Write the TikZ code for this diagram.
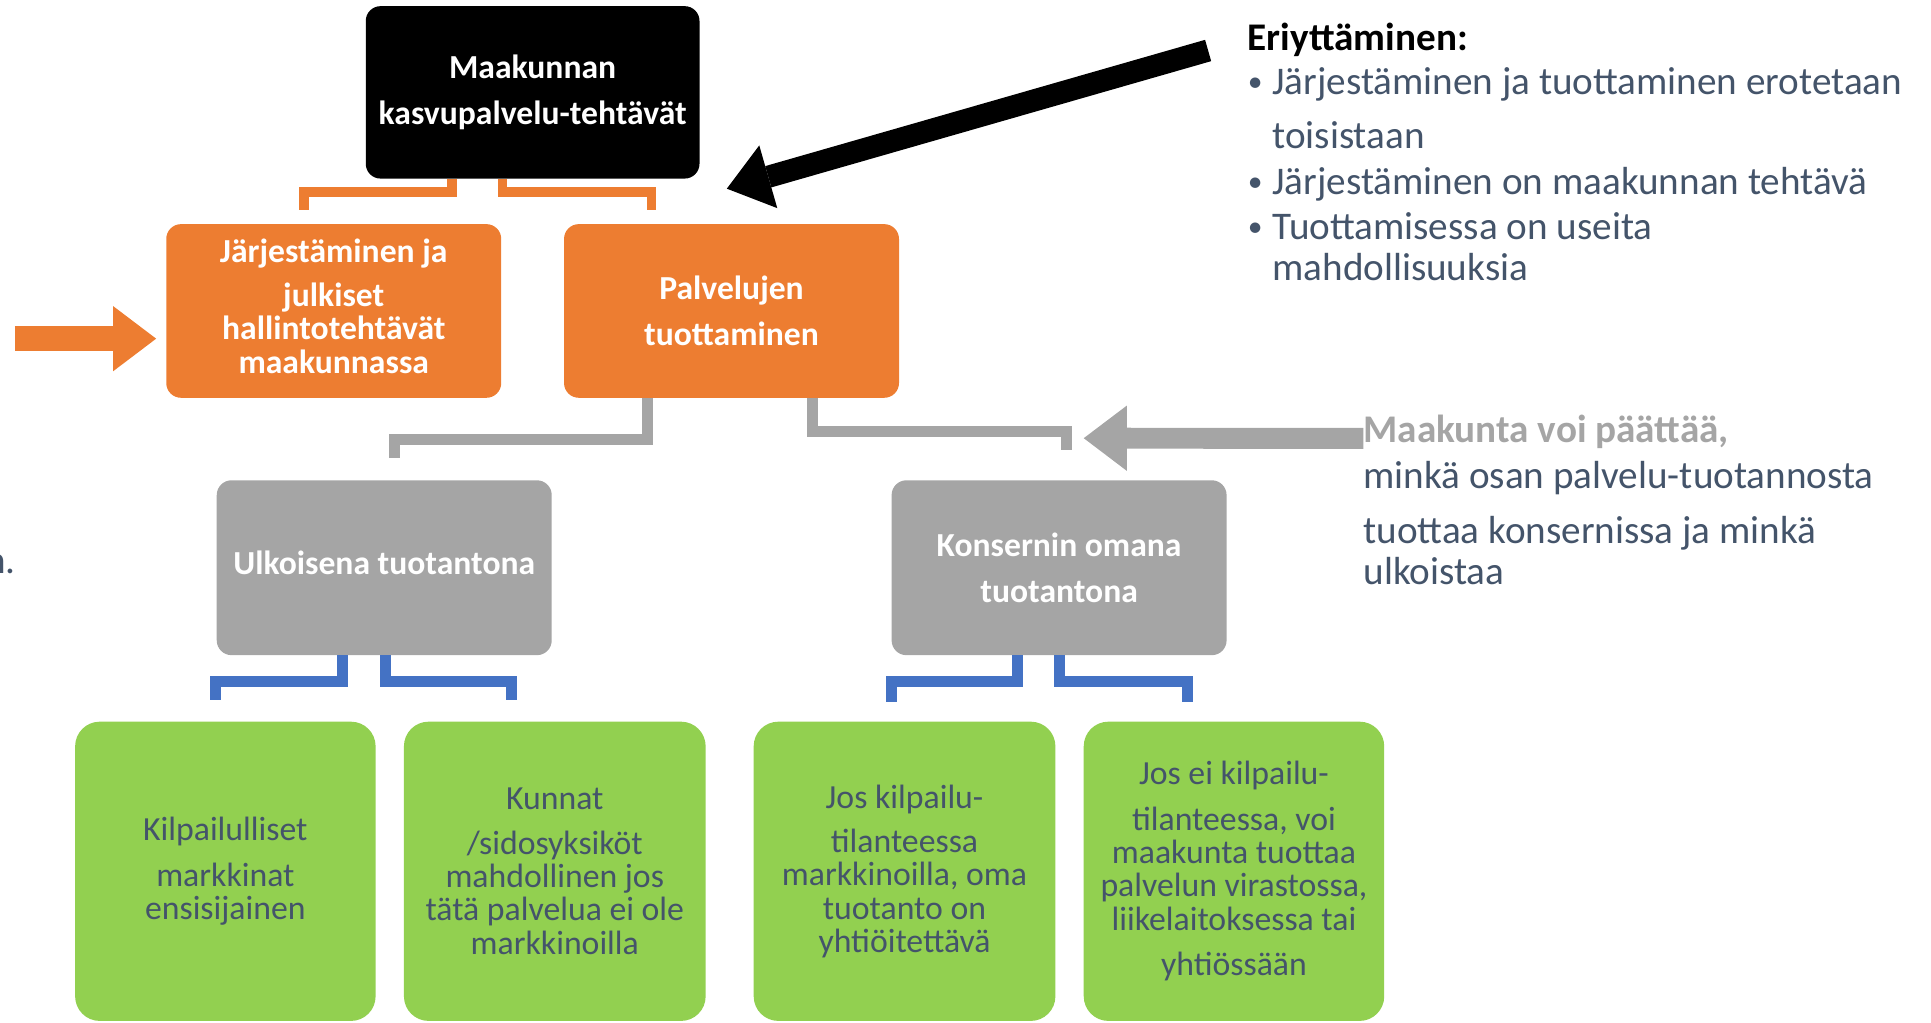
\documentclass[tikz,border=0pt]{standalone}
\usepackage{fontspec}
\setmainfont{Carlito}
\usetikzlibrary{arrows.meta}
\definecolor{orng}{HTML}{ED7D31}
\definecolor{boxgray}{HTML}{A5A5A5}
\definecolor{boxblue}{HTML}{4472C4}
\definecolor{leafgreen}{HTML}{92D050}
\definecolor{slate}{HTML}{44546A}
\newcommand{\dotitem}{\makebox[20pt][l]{\raisebox{2.3pt}{\fontsize{24}{24}\selectfont\textbullet}}}
\begin{document}
\begin{tikzpicture}[x=1pt,y=-1pt,
	every node/.style={inner sep=0pt},
	box/.style={rectangle,rounded corners=12pt,minimum width=272pt,minimum height=141pt,
		align=center,text=white,font=\bfseries\fontsize{27.3}{27}\selectfont},
	leaf/.style={rectangle,rounded corners=20pt,fill=leafgreen,minimum width=245pt,minimum height=243pt,
		align=center,text=slate,font=\fontsize{27.4}{27}\selectfont},
	note/.style={anchor=north west,align=left,text=slate,font=\fontsize{31.8}{33}\selectfont},
	oline/.style={draw=orng,line width=8pt},
	gline/.style={draw=boxgray,line width=9pt},
	bline/.style={draw=boxblue,line width=9pt},
	fatarrow/.style={line width=#1,-{Triangle[length=35pt,width=53pt,line width=0pt]}}]
\useasboundingbox (0,0) rectangle (1568,830);
% boxes
\node[box,fill=black,minimum width=271pt,minimum height=140pt] (maak) at (432.5,75) {Maakunnan\\[10pt]kasvupalvelu-tehtävät};
\node[box,fill=orng,text depth=8pt] (jarj) at (271,252.5) {Järjestäminen ja\\[9pt]julkiset\\hallintotehtävät\\maakunnassa};
\node[box,fill=orng] (palv) at (594,252.5) {Palvelujen\\[10pt]tuottaminen};
\node[box,fill=boxgray,minimum height=142pt,text depth=8pt] (ulk) at (312,461) {Ulkoisena tuotantona};
\node[box,fill=boxgray,minimum height=142pt] (kons) at (860,461) {Konsernin omana\\[10pt]tuotantona};
\node[leaf,minimum width=244pt] (lf1) at (183,707.5) {Kilpailulliset\\[10pt]markkinat\\ensisijainen};
\node[leaf] (lf2) at (450.5,707.5) {Kunnat\\[9pt]/sidosyksiköt\\mahdollinen jos\\tätä palvelua ei ole\\markkinoilla};
\node[leaf] (lf3) at (734.5,707.5) {Jos kilpailu-\\[9pt]tilanteessa\\markkinoilla, oma\\tuotanto on\\yhtiöitettävä};
\node[leaf,minimum width=244pt] (lf4) at (1002,707.5) {Jos ei kilpailu-\\[10pt]tilanteessa, voi\\maakunta tuottaa\\palvelun virastossa,\\liikelaitoksessa tai\\[10pt]yhtiössään};
% texts
\node[note] (erit) at (1013,15.5) {\rule{0pt}{25pt}{\color{black}\bfseries Eriyttäminen:}\\[3pt]
	\dotitem Järjestäminen ja tuottaminen erotetaan\\[11pt]
	\hspace*{20pt}toisistaan\\[4pt]
	\dotitem Järjestäminen on maakunnan tehtävä\\[4pt]
	\dotitem Tuottamisessa on useita\\
	\hspace*{20pt}mahdollisuuksia};
\node[note] (paata) at (1107,334.5) {\rule{0pt}{25pt}{\color{boxgray}\bfseries Maakunta voi päättää,}\\[4pt]
	minkä osan palvelu-tuotannosta\\[12pt]
	tuottaa konsernissa ja minkä\\
	ulkoistaa};
\node[text=slate,font=\fontsize{31.8}{33}\selectfont,anchor=east] (cut) at (13,458) {n.};
% connectors
\draw[oline] ([xshift=-65.5]maak.south) -- ++(0,11) -| ([xshift=-24,yshift=11]jarj.north);
\draw[oline] ([xshift=-24.5]maak.south) -- ++(0,11) -| ([xshift=-65,yshift=11]palv.north);
\draw[gline] ([xshift=-68]palv.south) -- ++(0,33.5) -| ([xshift=8,yshift=18]ulk.north);
\draw[gline] ([xshift=66]palv.south) -- ++(0,27) -| ([xshift=6,yshift=24]kons.north);
\draw[bline] ([xshift=-34]ulk.south) -- ++(0,21) -| ([xshift=-8,yshift=17]lf1.north);
\draw[bline] ([xshift=1]ulk.south) -- ++(0,21) -| ([xshift=-35.5,yshift=17]lf2.north);
\draw[bline] ([xshift=-34]kons.south) -- ++(0,21) -| ([xshift=-10.5,yshift=16]lf3.north);
\draw[bline] (kons.south) -- ++(0,21) -| ([xshift=-38,yshift=16]lf4.north);
% arrows
\coordinate (blacktail) at ([xshift=-32,yshift=-25.5]erit.north west);
\coordinate (orngtail) at (12,275);
\draw[fatarrow=18pt,draw=black] (blacktail) -- ([xshift=22,yshift=-8]maak.south east);
\draw[fatarrow=20pt,draw=orng] (orngtail) -- ([xshift=-8,yshift=-22.5]jarj.west);
\draw[fatarrow=17pt,draw=boxgray] ([yshift=-21.5]paata.north west) -- ([xshift=20,yshift=34]kons.north);
\end{tikzpicture}
\end{document}
